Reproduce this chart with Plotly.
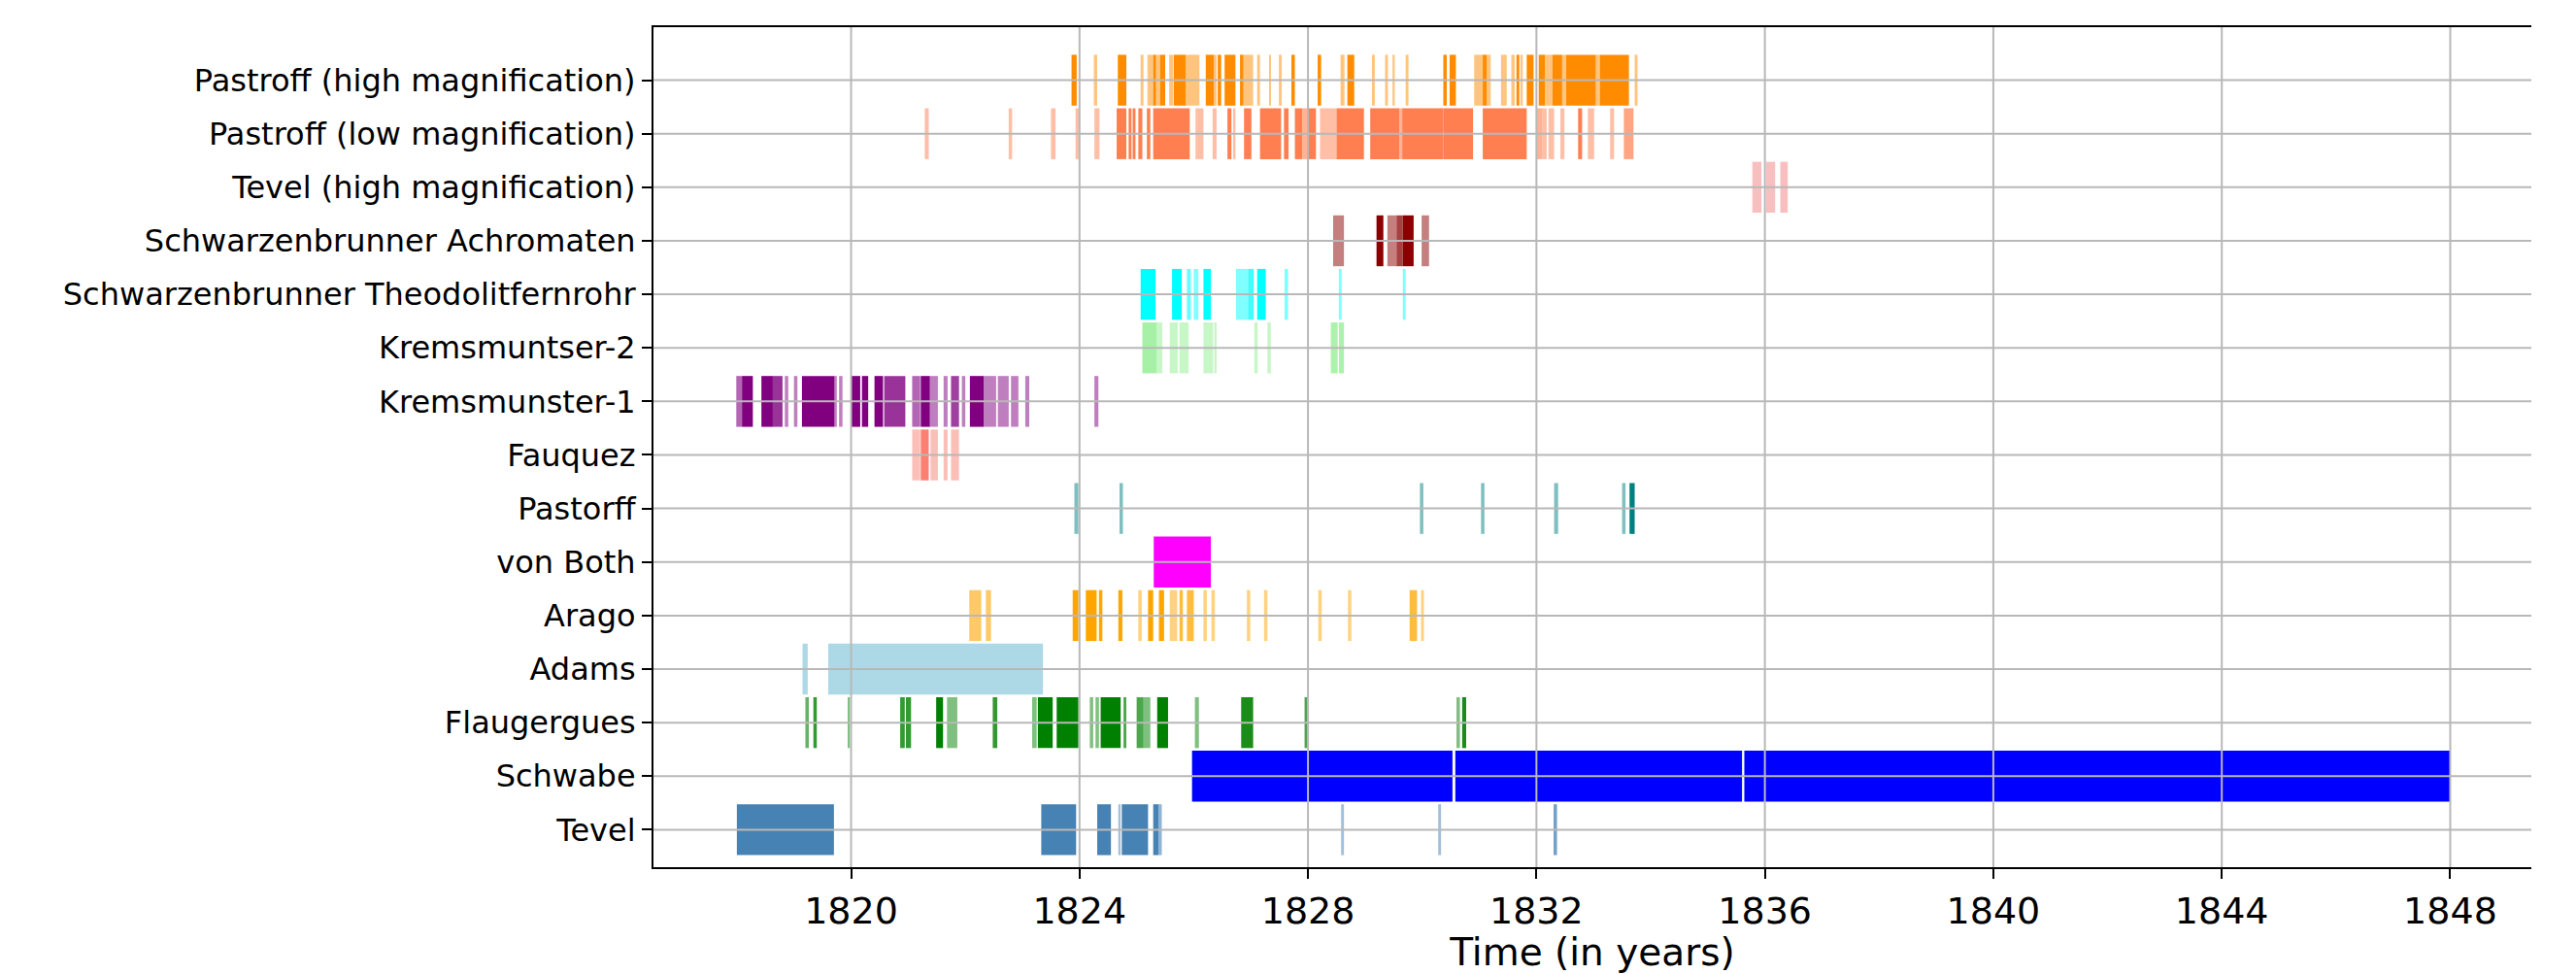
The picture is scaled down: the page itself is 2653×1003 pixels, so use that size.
import plotly.graph_objects as go

# ---------------- data (start year, end year, opacity) ----------------
labels = [
    "Tevel", "Schwabe", "Flaugergues", "Adams", "Arago", "von Both", "Pastorff",
    "Fauquez", "Kremsmunster-1", "Kremsmuntser-2",
    "Schwarzenbrunner Theodolitfernrohr", "Schwarzenbrunner Achromaten",
    "Tevel (high magnification)", "Pastroff (low magnification)",
    "Pastroff (high magnification)",
]

tevel = [(1818.00, 1819.70, 1), (1823.33, 1823.94, 1), (1824.31, 1824.55, 1),
         (1824.68, 1824.72, .5), (1824.74, 1825.20, 1), (1825.29, 1825.38, 1),
         (1825.38, 1825.44, .6), (1828.58, 1828.63, .5), (1830.28, 1830.33, .5),
         (1832.30, 1832.36, .75)]

schwabe = [(1825.97, 1830.53, 1), (1830.58, 1835.60, 1), (1835.64, 1848.00, 1)]

flaugergues = [(1819.20, 1819.26, .6), (1819.34, 1819.40, .8), (1819.94, 1819.98, .5),
               (1820.86, 1820.94, .8), (1820.96, 1821.05, .8), (1821.49, 1821.61, 1),
               (1821.68, 1821.86, .5), (1822.48, 1822.56, .8), (1823.17, 1823.25, .5),
               (1823.27, 1823.53, 1), (1823.60, 1823.98, 1), (1824.18, 1824.24, .5),
               (1824.28, 1824.34, .5), (1824.37, 1824.72, 1), (1824.77, 1824.82, .7),
               (1825.00, 1825.12, .7), (1825.12, 1825.24, .5), (1825.36, 1825.55, 1),
               (1826.02, 1826.09, .5), (1826.83, 1827.04, .9), (1827.94, 1827.99, .7),
               (1830.60, 1830.66, .5), (1830.70, 1830.77, .9)]

adams = [(1819.15, 1819.24, 1), (1819.60, 1823.36, 1)]

arago = [(1822.07, 1822.28, .6), (1822.36, 1822.45, .6), (1823.88, 1823.98, 1),
         (1824.11, 1824.30, 1), (1824.34, 1824.40, 1), (1824.68, 1824.75, 1),
         (1825.03, 1825.09, .5), (1825.20, 1825.29, 1), (1825.39, 1825.48, 1),
         (1825.58, 1825.71, .5), (1825.75, 1825.81, .75), (1825.88, 1826.00, .75),
         (1826.17, 1826.23, .5), (1826.31, 1826.37, .5), (1826.93, 1826.99, .5),
         (1827.23, 1827.29, .5), (1828.18, 1828.24, .5), (1828.70, 1828.76, .5),
         (1829.78, 1829.91, .75), (1829.98, 1830.03, .5)]

von_both = [(1825.30, 1826.30, 1)]

pastorff = [(1823.91, 1823.98, .5), (1824.70, 1824.76, .5), (1829.96, 1830.02, .5),
            (1831.03, 1831.09, .5), (1832.31, 1832.38, .5), (1833.50, 1833.56, .5),
            (1833.63, 1833.72, 1)]

fauquez = [(1821.07, 1821.21, .5), (1821.22, 1821.36, 1), (1821.39, 1821.52, .5),
           (1821.62, 1821.69, .5), (1821.75, 1821.89, .5)]

kremsmunster_1 = [(1817.99, 1818.09, .6), (1818.09, 1818.28, 1), (1818.43, 1818.63, 1),
                  (1818.63, 1818.80, .8), (1818.84, 1818.90, .5), (1819.00, 1819.06, .5),
                  (1819.14, 1819.71, 1), (1819.71, 1819.75, .5), (1819.79, 1819.85, .5),
                  (1820.00, 1820.16, 1), (1820.19, 1820.30, 1), (1820.41, 1820.56, 1),
                  (1820.58, 1820.95, .8), (1821.07, 1821.21, .6), (1821.22, 1821.38, 1),
                  (1821.38, 1821.52, .5), (1821.62, 1821.69, .5), (1821.75, 1821.89, .75),
                  (1821.94, 1822.00, .5), (1822.08, 1822.32, 1), (1822.32, 1822.54, .5),
                  (1822.57, 1822.76, .5), (1822.80, 1822.93, .5), (1823.05, 1823.12, .5),
                  (1824.26, 1824.33, .5)]

kremsmuntser_2 = [(1825.10, 1825.35, .8), (1825.35, 1825.45, .5), (1825.58, 1825.72, .5),
                  (1825.75, 1825.91, .5), (1826.17, 1826.34, .5), (1826.36, 1826.40, .5),
                  (1827.06, 1827.12, .5), (1827.29, 1827.35, .5), (1828.40, 1828.52, .75),
                  (1828.54, 1828.63, .75)]

schwarz_theodolit = [(1825.07, 1825.33, 1), (1825.62, 1825.79, 1), (1825.88, 1825.95, .6),
                     (1826.00, 1826.08, .5), (1826.17, 1826.30, 1), (1826.74, 1826.95, .5),
                     (1826.95, 1827.05, .75), (1827.11, 1827.26, 1), (1827.59, 1827.65, .5),
                     (1828.54, 1828.59, .5), (1829.66, 1829.71, .5)]

schwarz_achromaten = [(1828.44, 1828.63, .5), (1829.20, 1829.32, 1), (1829.39, 1829.55, .5),
                      (1829.55, 1829.66, .75), (1829.66, 1829.85, 1), (1829.99, 1830.12, .5)]

tevel_high = [(1835.78, 1835.94, .5), (1836.02, 1836.18, .5), (1836.27, 1836.40, .5)]

pastroff_low = [(1821.29, 1821.36, .5), (1822.76, 1822.82, .5), (1823.50, 1823.58, .5),
                (1823.93, 1824.00, .5), (1824.26, 1824.35, .5), (1824.65, 1824.82, 1),
                (1824.86, 1824.91, 1), (1824.93, 1824.98, 1), (1825.03, 1825.10, 1),
                (1825.18, 1825.24, 1), (1825.29, 1825.93, 1), (1826.03, 1826.17, .5),
                (1826.33, 1826.40, .5), (1826.59, 1826.66, 1), (1826.70, 1826.73, .5),
                (1826.88, 1827.01, 1), (1827.16, 1827.53, 1), (1827.58, 1827.66, 1),
                (1827.77, 1827.90, 1), (1827.90, 1828.00, .6), (1828.00, 1828.14, 1),
                (1828.21, 1828.50, .5), (1828.50, 1828.98, 1), (1829.09, 1829.60, 1),
                (1829.60, 1829.65, .6), (1829.65, 1830.37, 1), (1830.37, 1830.89, 1),
                (1831.06, 1831.83, 1), (1832.00, 1832.10, .6), (1832.10, 1832.18, .5),
                (1832.21, 1832.31, .5), (1832.42, 1832.49, .5), (1832.73, 1832.80, 1),
                (1832.90, 1833.01, .5), (1833.29, 1833.36, .5), (1833.53, 1833.70, .7)]

pastroff_high = [(1823.86, 1823.95, 1), (1824.25, 1824.31, .5), (1824.67, 1824.82, 1),
                 (1825.07, 1825.12, .5), (1825.19, 1825.29, .5), (1825.29, 1825.34, 1),
                 (1825.34, 1825.41, .5), (1825.41, 1825.50, 1), (1825.57, 1825.64, .5),
                 (1825.65, 1825.86, 1), (1825.86, 1826.10, .5), (1826.21, 1826.35, 1),
                 (1826.35, 1826.40, .5), (1826.42, 1826.48, 1), (1826.54, 1826.73, 1),
                 (1826.81, 1826.87, 1), (1826.87, 1827.04, .5), (1827.11, 1827.16, .5),
                 (1827.32, 1827.35, .5), (1827.49, 1827.54, .5), (1827.71, 1827.77, 1),
                 (1828.17, 1828.23, 1), (1828.57, 1828.64, .5), (1828.69, 1828.81, 1),
                 (1829.12, 1829.17, .5), (1829.35, 1829.40, .5), (1829.48, 1829.52, .5),
                 (1829.71, 1829.76, .5), (1830.37, 1830.43, 1), (1830.48, 1830.59, 1),
                 (1830.91, 1831.06, .5), (1831.06, 1831.13, 1), (1831.13, 1831.20, .5),
                 (1831.38, 1831.48, .5), (1831.56, 1831.62, .5), (1831.65, 1831.70, 1),
                 (1831.72, 1831.76, .5), (1831.83, 1831.95, 1), (1832.04, 1832.15, 1),
                 (1832.15, 1832.28, .5), (1832.28, 1832.45, 1), (1832.45, 1832.52, .5),
                 (1832.52, 1833.04, 1), (1833.04, 1833.11, .5), (1833.11, 1833.62, 1),
                 (1833.72, 1833.77, .5)]

series = [tevel, schwabe, flaugergues, adams, arago, von_both, pastorff, fauquez,
          kremsmunster_1, kremsmuntser_2, schwarz_theodolit, schwarz_achromaten,
          tevel_high, pastroff_low, pastroff_high]

x_ticks = [1820, 1824, 1828, 1832, 1836, 1840, 1844, 1848]

# ---------------- styles ----------------
colors = ["#4682b4", "#0000ff", "#008000", "#add8e6", "#ffa500", "#ff00ff", "#008080",
          "#fa8072", "#800080", "#90ee90", "#00ffff", "#8b0000", "#f08080",
          "#ff7f50", "#ff8c00"]

FONT = "DejaVu Sans"
GRID = "#b8b8b8"

fig = go.Figure()
for i, (segs, col) in enumerate(zip(series, colors)):
    fig.add_trace(go.Bar(
        y=[i] * len(segs),
        x=[e - s for s, e, a in segs],
        base=[s for s, e, a in segs],
        orientation="h",
        width=0.95,
        marker=dict(color=col, opacity=[a for s, e, a in segs], line=dict(width=0)),
        showlegend=False,
        hoverinfo="skip",
    ))

shapes = []
for xv in x_ticks:
    shapes.append(dict(type="line", xref="x", yref="paper", x0=xv, x1=xv, y0=0, y1=1,
                       line=dict(color=GRID, width=2), layer="above"))
for yi in range(len(labels)):
    shapes.append(dict(type="line", xref="paper", yref="y", x0=0, x1=1, y0=yi, y1=yi,
                       line=dict(color=GRID, width=2), layer="above"))

# the page body has an 8px default margin, so the figure is sized to fit the window
fig.update_layout(
    width=2645, height=995,
    margin=dict(l=665, r=46, t=20, b=105),
    paper_bgcolor="white", plot_bgcolor="white",
    barmode="overlay",
    shapes=shapes,
    font=dict(family=FONT, color="black"),
    xaxis=dict(
        range=[1816.54, 1849.42],
        tickvals=x_ticks, ticktext=[str(v) for v in x_ticks],
        tickfont=dict(size=38, family=FONT, color="black"),
        ticks="outside", ticklen=10, tickwidth=2, tickcolor="black",
        showline=True, linecolor="black", linewidth=2, mirror=True,
        showgrid=False, zeroline=False,
        title=dict(text="Time (in years)", font=dict(size=39, family=FONT, color="black"),
                   standoff=4),
    ),
    yaxis=dict(
        range=[-0.70, 14.99],
        tickvals=list(range(len(labels))), ticktext=labels,
        tickfont=dict(size=32, family=FONT, color="black"),
        ticks="outside", ticklen=10, tickwidth=2, tickcolor="black",
        showline=True, linecolor="black", linewidth=2,
        showgrid=False, zeroline=False,
    ),
)

fig.write_html("out.html")
